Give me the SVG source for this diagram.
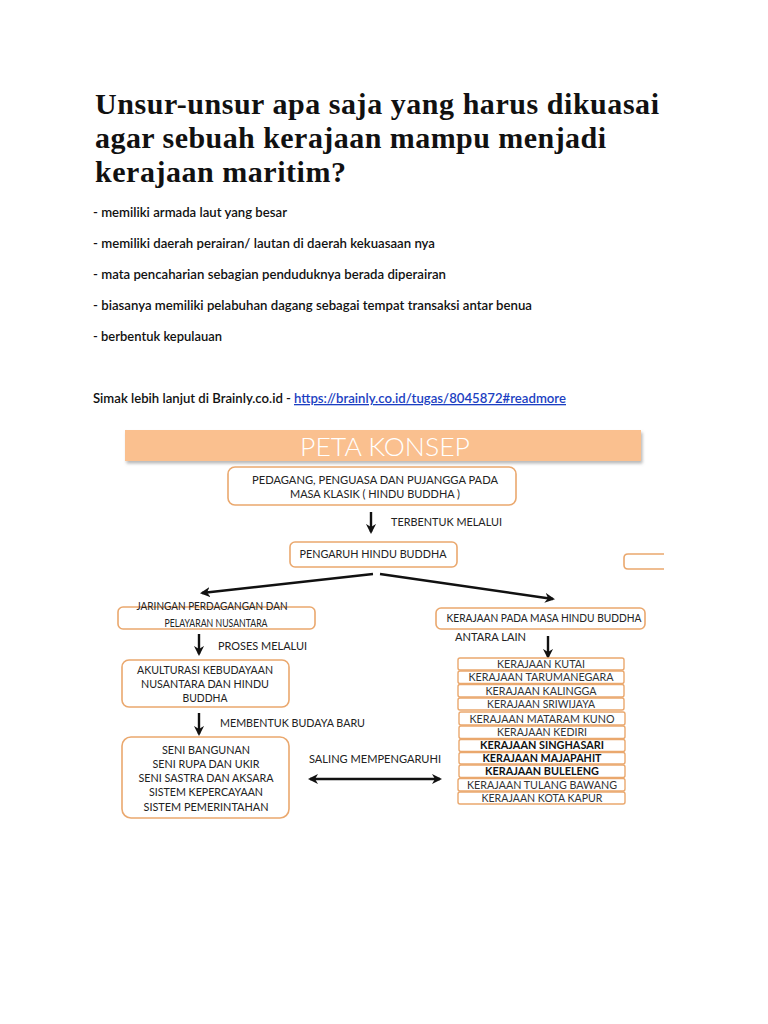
<svg xmlns="http://www.w3.org/2000/svg" width="768" height="1024" viewBox="0 0 768 1024">
<defs>
<style>
.title{font-family:"Liberation Serif","Times New Roman",serif;font-weight:bold;font-size:30px;fill:#111}
.body{font-family:Lato,"Liberation Sans",sans-serif;font-size:13px;font-weight:600;fill:#111}
.link{fill:#1c3fc2;text-decoration:underline}
.box{fill:#fff;stroke:#eaa86e;stroke-width:1.6}
.row{fill:#fff;stroke:#eaa86e;stroke-width:1.4}
.t{font-family:Lato,"Liberation Sans",sans-serif;font-size:11px;fill:#222;text-anchor:middle}
.lb{font-family:Lato,"Liberation Sans",sans-serif;font-size:11px;fill:#222}
.r{font-family:Lato,"Liberation Sans",sans-serif;font-size:10.5px;fill:#333;text-anchor:middle}
.rb{font-weight:bold;fill:#111}
.arr{stroke:#111;stroke-width:2.4;fill:none}
</style>
<marker id="ah" viewBox="0 0 10 10" refX="8" refY="5" markerWidth="4.2" markerHeight="4.2" orient="auto-start-reverse" markerUnits="strokeWidth">
<path d="M0,0 L10,5 L0,10 L3,5 Z" fill="#111"/>
</marker>
<filter id="sh" x="-5%" y="-30%" width="110%" height="170%">
<feDropShadow dx="1.5" dy="2.5" stdDeviation="1.5" flood-color="#888" flood-opacity="0.6"/>
</filter>
</defs>
<rect width="768" height="1024" fill="#fff"/>

<g id="title">
<text class="title" x="95" y="114" textLength="564" lengthAdjust="spacing">Unsur-unsur apa saja yang harus dikuasai</text>
<text class="title" x="95" y="148" textLength="511" lengthAdjust="spacing">agar sebuah kerajaan mampu menjadi</text>
<text class="title" x="95" y="182" textLength="251" lengthAdjust="spacing">kerajaan maritim?</text>
</g>

<g id="answers">
<text class="body" x="93" y="217" textLength="194" lengthAdjust="spacingAndGlyphs">- memiliki armada laut yang besar</text>
<text class="body" x="93" y="248" textLength="342" lengthAdjust="spacingAndGlyphs">- memiliki daerah perairan/ lautan di daerah kekuasaan nya</text>
<text class="body" x="93" y="279" textLength="353" lengthAdjust="spacingAndGlyphs">- mata pencaharian sebagian penduduknya berada diperairan</text>
<text class="body" x="93" y="310" textLength="439" lengthAdjust="spacingAndGlyphs">- biasanya memiliki pelabuhan dagang sebagai tempat transaksi antar benua</text>
<text class="body" x="93" y="341" textLength="129" lengthAdjust="spacingAndGlyphs">- berbentuk kepulauan</text>
<text class="body" x="93" y="403" textLength="198" lengthAdjust="spacingAndGlyphs">Simak lebih lanjut di Brainly.co.id -</text>
<text class="body link" x="294" y="403" textLength="272" lengthAdjust="spacingAndGlyphs">https://brainly.co.id/tugas/8045872#readmore</text>
</g>

<g id="header">
<rect x="125" y="430" width="516" height="31" fill="#fac08f" filter="url(#sh)"/>
<text x="385" y="456" text-anchor="middle" font-family="Lato,'Liberation Sans',sans-serif" font-size="26" font-weight="300" fill="#fff" textLength="170" lengthAdjust="spacingAndGlyphs">PETA KONSEP</text>
</g>

<g id="connectors">
<line class="arr" x1="371" y1="512" x2="371" y2="532" marker-end="url(#ah)"/>
<line class="arr" x1="373" y1="574" x2="202" y2="593" marker-end="url(#ah)"/>
<line class="arr" x1="380" y1="574" x2="553" y2="599" marker-end="url(#ah)"/>
<line class="arr" x1="199" y1="634" x2="199" y2="654" marker-end="url(#ah)"/>
<line class="arr" x1="199" y1="713" x2="199" y2="734" marker-end="url(#ah)"/>
<line class="arr" x1="548" y1="636" x2="548" y2="657" marker-end="url(#ah)"/>
<line class="arr" x1="310" y1="779" x2="440" y2="779" marker-start="url(#ah)" marker-end="url(#ah)"/>
<text class="lb" x="391" y="526" textLength="111" lengthAdjust="spacingAndGlyphs">TERBENTUK MELALUI</text>
<text class="lb" x="218" y="650" textLength="89" lengthAdjust="spacingAndGlyphs">PROSES MELALUI</text>
<text class="lb" x="220" y="727" textLength="145" lengthAdjust="spacingAndGlyphs">MEMBENTUK BUDAYA BARU</text>
<text class="lb" x="455" y="641" textLength="71" lengthAdjust="spacingAndGlyphs">ANTARA LAIN</text>
<text class="lb" x="309" y="763" textLength="132" lengthAdjust="spacingAndGlyphs">SALING MEMPENGARUHI</text>
</g>

<g id="node-pedagang">
<rect class="box" x="228" y="467" width="288" height="38" rx="7"/>
<text class="t" x="375" y="484" textLength="246" lengthAdjust="spacingAndGlyphs">PEDAGANG, PENGUASA DAN PUJANGGA PADA</text>
<text class="t" x="375" y="498" textLength="170" lengthAdjust="spacingAndGlyphs">MASA KLASIK ( HINDU BUDDHA )</text>
</g>

<g id="node-pengaruh">
<rect class="box" x="290" y="542" width="167" height="25" rx="5"/>
<text class="t" x="373" y="558" textLength="147" lengthAdjust="spacingAndGlyphs">PENGARUH HINDU BUDDHA</text>
</g>

<g id="node-edge">
<path class="box" d="M664,554 H628 Q624,554 624,558 V565 Q624,569 628,569 H664"/>
</g>

<g id="node-jaringan">
<rect class="box" x="118" y="607" width="197" height="22" rx="5"/>
<text class="t" x="212" y="610" textLength="151" lengthAdjust="spacingAndGlyphs">JARINGAN PERDAGANGAN DAN</text>
<text class="t" x="216" y="627" textLength="103" lengthAdjust="spacingAndGlyphs">PELAYARAN NUSANTARA</text>
</g>

<g id="node-akulturasi">
<rect class="box" x="122" y="660" width="167" height="47" rx="7"/>
<text class="t" x="205" y="674" textLength="136" lengthAdjust="spacingAndGlyphs">AKULTURASI KEBUDAYAAN</text>
<text class="t" x="205" y="688" textLength="128" lengthAdjust="spacingAndGlyphs">NUSANTARA DAN HINDU</text>
<text class="t" x="205" y="702" textLength="45" lengthAdjust="spacingAndGlyphs">BUDDHA</text>
</g>

<g id="node-budaya">
<rect class="box" x="122" y="737" width="167" height="81" rx="9"/>
<text class="t" x="206" y="754" textLength="88" lengthAdjust="spacingAndGlyphs">SENI BANGUNAN</text>
<text class="t" x="206" y="768" textLength="107" lengthAdjust="spacingAndGlyphs">SENI RUPA DAN UKIR</text>
<text class="t" x="206" y="782" textLength="135" lengthAdjust="spacingAndGlyphs">SENI SASTRA DAN AKSARA</text>
<text class="t" x="206" y="796" textLength="114" lengthAdjust="spacingAndGlyphs">SISTEM KEPERCAYAAN</text>
<text class="t" x="206" y="811" textLength="125" lengthAdjust="spacingAndGlyphs">SISTEM PEMERINTAHAN</text>
</g>

<g id="node-kerajaan">
<rect class="box" x="436" y="608" width="209" height="21" rx="5"/>
<text class="t" x="544" y="622" textLength="195" lengthAdjust="spacingAndGlyphs">KERAJAAN PADA MASA HINDU BUDDHA</text>
</g>

<g id="node-list">
<rect class="row" x="458" y="658" width="166" height="12" rx="2"/>
<text class="r" x="541" y="668" textLength="88" lengthAdjust="spacingAndGlyphs">KERAJAAN KUTAI</text>
<rect class="row" x="458" y="671" width="166" height="12.5" rx="2"/>
<text class="r" x="541" y="681" textLength="145" lengthAdjust="spacingAndGlyphs">KERAJAAN TARUMANEGARA</text>
<rect class="row" x="458" y="684.5" width="166" height="12.5" rx="2"/>
<text class="r" x="541" y="695" textLength="111" lengthAdjust="spacingAndGlyphs">KERAJAAN KALINGGA</text>
<rect class="row" x="458" y="698" width="166" height="12" rx="2"/>
<text class="r" x="541" y="708" textLength="108" lengthAdjust="spacingAndGlyphs">KERAJAAN SRIWIJAYA</text>
<rect class="row" x="459" y="712" width="166" height="13" rx="2"/>
<text class="r" x="542" y="723" textLength="145" lengthAdjust="spacingAndGlyphs">KERAJAAN MATARAM KUNO</text>
<rect class="row" x="459" y="726" width="166" height="12.5" rx="2"/>
<text class="r" x="542" y="736" textLength="90" lengthAdjust="spacingAndGlyphs">KERAJAAN KEDIRI</text>
<rect class="row" x="459" y="739.5" width="166" height="12" rx="2"/>
<text class="r rb" x="542" y="749" textLength="124" lengthAdjust="spacingAndGlyphs">KERAJAAN SINGHASARI</text>
<rect class="row" x="459" y="752.5" width="166" height="11.5" rx="2"/>
<text class="r rb" x="542" y="762" textLength="119" lengthAdjust="spacingAndGlyphs">KERAJAAN MAJAPAHIT</text>
<rect class="row" x="459" y="765" width="166" height="12.5" rx="2"/>
<text class="r rb" x="542" y="775" textLength="114" lengthAdjust="spacingAndGlyphs">KERAJAAN BULELENG</text>
<rect class="row" x="458" y="778.5" width="167" height="12.5" rx="2"/>
<text class="r" x="542" y="789" textLength="150" lengthAdjust="spacingAndGlyphs">KERAJAAN TULANG BAWANG</text>
<rect class="row" x="458" y="792" width="167" height="12" rx="2"/>
<text class="r" x="542" y="802" textLength="121" lengthAdjust="spacingAndGlyphs">KERAJAAN KOTA KAPUR</text>
</g>
</svg>
